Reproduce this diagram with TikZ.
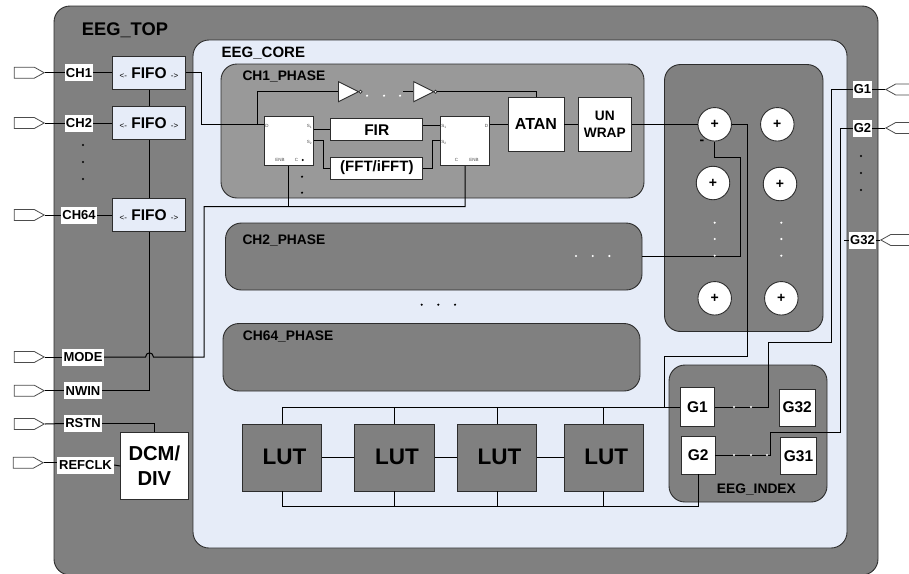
\documentclass[tikz,border=0pt]{standalone}
\usepackage{fontspec}
\setmainfont{Liberation Sans}
\usepackage{xcolor}
\usetikzlibrary{shapes.geometric,shapes.symbols,positioning}
\definecolor{qcore}{RGB}{230,236,248}
\definecolor{qgray}{RGB}{128,128,128}
\definecolor{qphase}{RGB}{153,153,153}
\definecolor{qedge}{RGB}{45,45,45}
\newcommand{\fsz}[1]{\fontsize{#1}{#1}\selectfont}
\tikzset{
  panel/.style={draw=qedge,line width=0.9pt,fill=qgray,rounded corners=16pt,inner sep=0pt},
  blok/.style={draw=qedge,line width=0.9pt,fill=white,inner sep=0pt,align=center,font=\bfseries},
  fifobox/.style={blok,fill=qcore,minimum width=73,minimum height=33,font=\fsz{15.5}\bfseries},
  lutbox/.style={blok,fill=qgray,minimum width=79.4,minimum height=67,font=\fsz{22.5}\bfseries},
  gbox/.style={blok,font=\fsz{15.5}\bfseries},
  sumnode/.style={circle,draw=qedge,line width=0.9pt,fill=white,minimum size=33.5,inner sep=0pt,font=\fsz{14}\bfseries},
  title/.style={anchor=west,inner sep=0pt,text=black,font=\bfseries},
  pinlbl/.style={fill=white,inner sep=0pt,minimum height=17,font=\fsz{13}\bfseries},
  tiny/.style={inner sep=0pt,text=black!70,font=\fsz{4.5}},
  inport/.style={shape=signal,signal to=east,signal pointer angle=58,draw=black!70,line width=0.8pt,fill=white,
    minimum width=30,minimum height=11,inner sep=0pt,anchor=east},
  outport/.style={inport,signal to=west,anchor=west},
  inv/.style={isosceles triangle,isosceles triangle apex angle=53,isosceles triangle stretches,anchor=lower side,
    draw=qedge,line width=0.9pt,fill=white,minimum width=20,minimum height=20,inner sep=0pt},
  bubble/.style={circle,draw=qedge,line width=0.7pt,fill=white,minimum size=3.2,inner sep=0pt},
  wire/.style={draw=black,line width=1pt},
}
\begin{document}
\begin{tikzpicture}[x=1pt,y=-1pt]
  \useasboundingbox (0,0) rectangle (909,573);
  % containers
  \node[panel,minimum width=824,minimum height=569] (top) at (466,290.5) {};
  \node[panel,fill=qcore,minimum width=654,minimum height=508] (core) at (520,294) {};
  \node[panel,fill=qphase,minimum width=423,minimum height=134] (chA) at (432.5,131) {};
  \node[panel,minimum width=416.5,minimum height=67] (chB) at (433.75,256.5) {};
  \node[panel,minimum width=417,minimum height=67.5] (chC) at (431.5,357.25) {};
  \node[panel,minimum width=158.5,minimum height=267] (sums) at (743.75,198) {};
  \node[panel,minimum width=158,minimum height=137] (index) at (748,433.5) {};
  \node[title,font=\fsz{18.3}\bfseries] (tTop) at (81.7,30) {EEG\_TOP};
  \node[title,font=\fsz{15}\bfseries] (tCore) at (221.5,53) {EEG\_CORE};
  \node[title,font=\fsz{13.8}\bfseries] (tChA) at (242.3,77) {CH1\_PHASE};
  \node[title,font=\fsz{13.8}\bfseries] (tChB) at (242.3,241) {CH2\_PHASE};
  \node[title,font=\fsz{13.8}\bfseries] (tChC) at (242.7,337) {CH64\_PHASE};
  \node[title,font=\fsz{13.8}\bfseries] (tIdx) at (716.7,490) {EEG\_INDEX};
  % input pins
  \node[inport] (pA) at (45,72.7) {};
  \node[inport] (pB) at (45,123) {};
  \node[inport] (pC) at (45,215) {};
  \node[inport] (pMode) at (45,357) {};
  \node[inport] (pWin) at (45,390.7) {};
  \node[inport] (pRst) at (45,424) {};
  \node[inport] (pClk) at (44,462.7) {};
  \node[pinlbl,minimum width=28] (lA) at (79,72.7) {CH1};
  \node[pinlbl,minimum width=28] (lB) at (79,123) {CH2};
  \node[pinlbl,minimum width=36] (lC) at (79,215) {CH64};
  \node[pinlbl,minimum width=42] (lMode) at (83,357) {MODE};
  \node[pinlbl,minimum width=38] (lWin) at (83,390.7) {NWIN};
  \node[pinlbl,minimum width=38] (lRst) at (83,423.5) {RSTN};
  \node[pinlbl,minimum width=57] (lClk) at (85.5,465) {REFCLK};
  % fifo
  \node[fifobox] (fifoA) at (149,72.7) {{\fsz{8}\mdseries <-} FIFO {\fsz{8}\mdseries ->}};
  \node[fifobox] (fifoB) at (149,123) {{\fsz{8}\mdseries <-} FIFO {\fsz{8}\mdseries ->}};
  \node[fifobox] (fifoC) at (149,215) {{\fsz{8}\mdseries <-} FIFO {\fsz{8}\mdseries ->}};
  \node[blok,minimum width=67.3,minimum height=66.6,font=\fsz{20.2}\bfseries,align=center] (dcm) at (154.35,466)
    {DCM/\\[5pt]DIV};
  % output pins
  \node[outport] (pGa) at (885,89.5) {};
  \node[outport] (pGb) at (885,128) {};
  \node[outport] (pGc) at (880,240) {};
  \node[pinlbl,minimum width=19] (lGa) at (862.5,89.5) {G1};
  \node[pinlbl,minimum width=19] (lGb) at (862.5,128) {G2};
  \node[pinlbl,minimum width=27] (lGc) at (862.5,240) {G32};
  % phase channel
  \node[blok,minimum width=49.5,minimum height=49.7] (muxA) at (288.75,140.85) {};
  \node[blok,minimum width=49.5,minimum height=49.7] (muxB) at (465.15,140.85) {};
  \node[blok,minimum width=92,minimum height=22,font=\fsz{15.5}\bfseries] (fir) at (376.75,129.7) {FIR};
  \node[blok,minimum width=92,minimum height=22,font=\fsz{15}\bfseries] (fft) at (376.85,168) {(FFT/iFFT)};
  \node[blok,minimum width=56,minimum height=53.4,font=\fsz{16}\bfseries] (atan) at (536,124.3) {ATAN};
  \node[blok,minimum width=53,minimum height=53.4,font=\fsz{13.7}\bfseries] (unwrap) at (604.8,124.3) {UN\\[3pt]WRAP};
  \node[inv] (invA) at (338,91.7) {};
  \node[inv] (invB) at (413.3,91.7) {};
  \node[bubble] (bubA) at (360.5,91.7) {};
  \node[bubble] (bubB) at (435.5,91.7) {};
  \node[tiny] (dA) at (267,126) {D};
  \node[tiny] (sAa) at (309.5,126) {S\textsubscript{1}};
  \node[tiny] (sAb) at (309.5,142) {S\textsubscript{2}};
  \node[tiny] (enA) at (280,160) {ENB};
  \node[tiny] (cA) at (296.5,160) {C};
  \node[tiny] (dB) at (486.5,126) {D};
  \node[tiny] (sBa) at (444,126) {S\textsubscript{1}};
  \node[tiny] (sBb) at (444,142) {S\textsubscript{2}};
  \node[tiny] (enB) at (474,160) {ENB};
  \node[tiny] (cB) at (456.5,160) {C};
  % adders
  \node[sumnode] (sumA) at (714.7,124.3) {+};
  \node[sumnode] (sumB) at (777.3,124.3) {+};
  \node[sumnode] (sumC) at (713,183) {+};
  \node[sumnode] (sumD) at (780,184) {+};
  \node[sumnode] (sumE) at (714.7,298.3) {+};
  \node[sumnode] (sumF) at (781.3,298.3) {+};
  \node[inner sep=0pt,font=\fsz{14}\bfseries] (minus) at (702,142.5) {-};
  % lut and index
  \foreach \nm/\xx in {lutA/282,lutB/394.5,lutC/497,lutD/603.65}
    \node[lutbox] (\nm) at (\xx,457.5) {\raisebox{2pt}{\hspace{5pt}LUT}};
  \node[gbox,minimum width=34.7,minimum height=39.6] (gOne) at (697.35,407) {G1};
  \node[gbox,minimum width=36.3,minimum height=37] (gTtw) at (797.15,407.5) {G32};
  \node[gbox,minimum width=33.7,minimum height=38] (gTwo) at (698.15,455) {G2};
  \node[gbox,minimum width=36.4,minimum height=37] (gTon) at (798.5,456.2) {G31};
  % pins to fifo
  \draw[wire] (pA.east) -- (lA.west) (lA.east) -- (fifoA.west);
  \draw[wire] (pB.east) -- (lB.west) (lB.east) -- (fifoB.west);
  \draw[wire] (pC.east) -- (lC.west) (lC.east) -- (fifoC.west);
  \draw[wire] (fifoA.south) -- (fifoB.north) (fifoB.south) -- (fifoC.north);
  \draw[wire] (fifoC.south) |- (lWin.east);
  \draw[wire] (pWin.east) -- (lWin.west);
  \draw[wire] (pMode.east) -- (lMode.west);
  \draw[wire] (lMode.east) -- (145.5,357) .. controls (146,351.5) and (153,351.5) .. (153.5,357)
    -- (204,357) -- (204,206.5) -- (muxB.south |- 204,206.5) -- (muxB.south);
  \draw[wire] (muxA.south |- 204,206.5) -- (muxA.south);
  \draw[wire] (pRst.east) -- (lRst.west);
  \draw[wire] (lRst.east) -| (dcm.north);
  \draw[wire] (pClk.east) -- (lClk.west |- pClk.east);
  \draw[wire] (lClk.east) -- (dcm.west);
  % phase wires
  \draw[wire] (fifoA.east) -- (201,72.7) -- (201,124.5) -- (muxA.west |- 201,124.5);
  \draw[wire] (257.7,124.5) -- (257.7,91.7) -- (invA.lower side);
  \draw[wire] (invB.lower side) -- ++(-10.3,0);
  \draw[wire] (bubB.east) -- (atan.north |- bubB.east) -- (atan.north);
  \draw[wire] (muxA.east |- fir.west) -- (fir.west);
  \draw[wire] (fir.east |- 0,125) -- (muxB.west |- 0,125);
  \draw[wire] (muxA.east |- 0,140.5) -- (323.7,140.5) -- (323.7,168) -- (fft.west);
  \draw[wire] (fft.east) -- (432.7,168) -- (432.7,140.5) -- (muxB.west |- 0,140.5);
  \draw[wire] (muxB.east |- atan.west) -- (atan.west);
  \draw[wire] (atan.east) -- (unwrap.west);
  \draw[wire] (unwrap.east) -- (sumA.west);
  % adder wires
  \draw[wire] (sumA.south) -- (714.7,157) -- (740.3,157) -- (740.3,256.7) -- (chB.east |- 0,256.7);
  \draw[wire] (sumA.east) -- (747,124.3) -- (747,356) -- (664.3,356) -- (664.3,407);
  \draw[wire] (pGa.west) -- (lGa.east);
  \draw[wire] (lGa.west) -- (831.7,89.5) -- (831.7,342.5) -- (768.3,342.5) -- (768.3,407) -- (gOne.east);
  \draw[wire] (pGb.west) -- (lGb.east);
  \draw[wire] (lGb.west) -- (840,128) -- (840,432.7) -- (770,432.7) -- (770,455) -- (gTwo.east);
  \draw[wire] (pGc.west) -- (lGc.east);
  \draw[wire] (lGc.west) -- ++(-4.5,0);
  % lut buses
  \draw[wire] (lutA.north) |- (gOne.west);
  \draw[wire] (lutB.north) -- (lutB.north |- gOne.west);
  \draw[wire] (lutC.north) -- (lutC.north |- gOne.west);
  \draw[wire] (lutD.north) -- (lutD.north |- gOne.west);
  \draw[wire] (gTwo.south) -- (gTwo.south |- 0,506.7) -- (lutA.south |- 0,506.7) -- (lutA.south);
  \draw[wire] (lutB.south) -- (lutB.south |- 0,506.7);
  \draw[wire] (lutC.south) -- (lutC.south |- 0,506.7);
  \draw[wire] (lutD.south) -- (lutD.south |- 0,506.7);
  \draw[wire] (lutA.east) -- (lutB.west) (lutB.east) -- (lutC.west) (lutC.east) -- (lutD.west);
  % dots
  \foreach \xx/\yy in {83/145,83/162,83/179,861/156,861/173,861/190,421.7/304.7,438.3/304.7,455/304.7,
      302.7/160,302/176.7,302/192.7}
    \fill[black] (\xx,\yy) circle (1.2);
  \foreach \xx/\yy in {367/95.7,384/95.7,400/95.7,576/256,592.7/256,609.3/256,
      714.7/222.7,714.7/239,714.7/255.7,781.3/222.7,781.3/239,781.3/255.7,
      734/407,751/407,734/455,751/455,767/455}
    \fill[white] (\xx,\yy) circle (1.2);
\end{tikzpicture}
\end{document}
